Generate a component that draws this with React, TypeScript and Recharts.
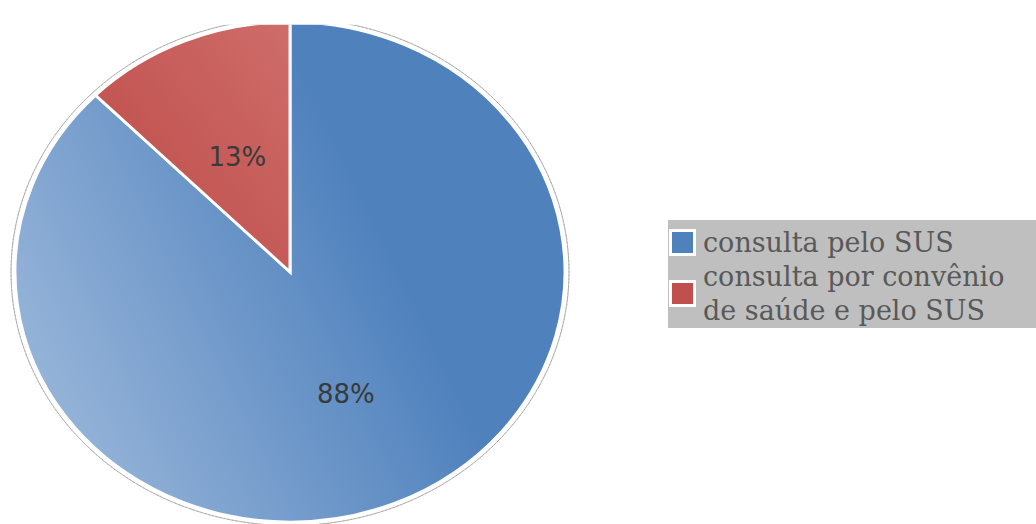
import { PieChart, Pie, Cell } from "recharts";

// shares of respondents (labels show the rounded percentage)
const categories = ["consulta pelo SUS", "consulta por convênio de saúde e pelo SUS"];
const legendLines = [["consulta pelo SUS"], ["consulta por convênio", "de saúde e pelo SUS"]];
const shares = [87.5, 12.5];
const gradientIds = ["gradBlue", "gradRed"];
const swatchColors = ["#4f81bd", "#c0504d"];

const data = categories.map((name, i) => ({ name, value: shares[i] }));

const CX = 290;
const CY = 272;
const R = 275;
const SY = 0.909; // the original pie is slightly squashed vertically

const renderLabel = (props: any) => {
    const { cx, cy, midAngle, outerRadius, value, index } = props;
    const RAD = Math.PI / 180;
    const r = outerRadius * (index === 0 ? 0.53 : 0.5);
    const x = cx + r * Math.cos(-midAngle * RAD);
    const y = cy + r * Math.sin(-midAngle * RAD);
    return (
        <text
            x={x}
            y={y}
            textAnchor="middle"
            dominantBaseline="central"
            fill="#3a3a3a"
            fontFamily="DejaVu Sans"
            fontSize={26}
            transform={`translate(${x} ${y}) scale(1 ${1 / SY}) translate(${-x} ${-y})`}
        >
            {`${Math.round(value)}%`}
        </text>
    );
};

export default function App() {
    return (
        <div style={{ position: "absolute", left: 0, top: 0, width: 1036, height: 524, background: "#fff", overflow: "hidden" }}>
            <div style={{ transform: `scaleY(${SY})`, transformOrigin: `${CX}px ${CY}px` }}>
                <PieChart width={600} height={600} margin={{ top: 0, right: 0, bottom: 0, left: 0 }}>
                    <defs>
                        <linearGradient id="gradBlue" x1="0" y1="0.75" x2="0.68" y2="0.45">
                            <stop offset="0%" stopColor="#9ab7da" />
                            <stop offset="100%" stopColor="#4f81bd" />
                        </linearGradient>
                        <linearGradient id="gradRed" x1="0.2" y1="0.8" x2="1" y2="0">
                            <stop offset="0%" stopColor="#c0504d" />
                            <stop offset="100%" stopColor="#ce6d6a" />
                        </linearGradient>
                    </defs>
                    <Pie
                        data={[{ v: 1 }]}
                        dataKey="v"
                        cx={CX}
                        cy={CY}
                        innerRadius={R + 4}
                        outerRadius={R + 4}
                        fill="none"
                        stroke="#aaaaaa"
                        strokeWidth={1}
                        strokeDasharray="5 3"
                        isAnimationActive={false}
                        label={false}
                    />
                    <Pie
                        data={data}
                        dataKey="value"
                        nameKey="name"
                        cx={CX}
                        cy={CY}
                        outerRadius={R}
                        startAngle={90}
                        endAngle={-270}
                        stroke="#ffffff"
                        strokeWidth={3}
                        labelLine={false}
                        label={renderLabel}
                        isAnimationActive={false}
                    >
                        {data.map((d, i) => (
                            <Cell key={d.name} fill={`url(#${gradientIds[i]})`} />
                        ))}
                    </Pie>
                </PieChart>
            </div>
            <div
                style={{
                    position: "absolute",
                    left: 668,
                    top: 220,
                    width: 368,
                    height: 108,
                    boxSizing: "border-box",
                    paddingTop: 6,
                    background: "#bfbfbf",
                    fontFamily: "DejaVu Serif",
                    fontSize: 27,
                    lineHeight: "34px",
                    color: "#595959",
                    whiteSpace: "nowrap",
                }}
            >
                {legendLines.map((lines, i) => (
                    <div key={i} style={{ position: "relative", paddingLeft: 35 }}>
                        <div
                            style={{
                                position: "absolute",
                                left: 1,
                                top: "50%",
                                marginTop: -14,
                                width: 21,
                                height: 21,
                                border: "3px solid #fff",
                                background: swatchColors[i],
                            }}
                        />
                        {lines.map((t) => (
                            <div key={t}>{t}</div>
                        ))}
                    </div>
                ))}
            </div>
        </div>
    );
}
